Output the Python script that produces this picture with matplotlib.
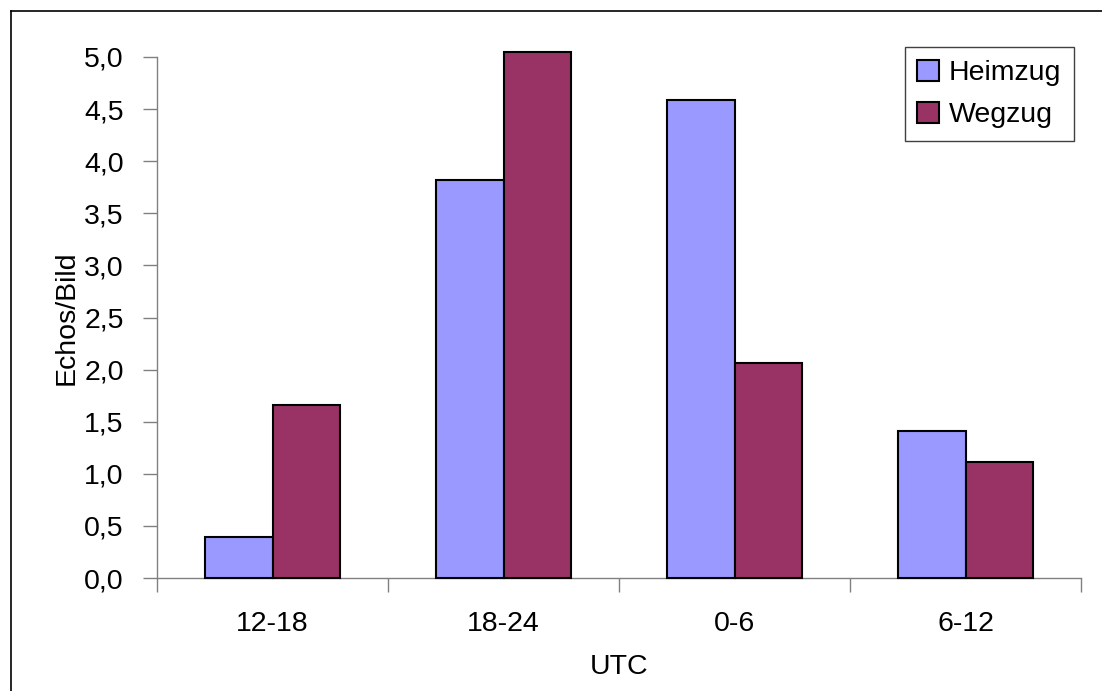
import numpy as np
import matplotlib
matplotlib.use("Agg")
import matplotlib.pyplot as plt
from matplotlib.lines import Line2D

plt.rcParams['font.family'] = ['Liberation Sans', 'DejaVu Sans']

categories = ["12-18", "18-24", "0-6", "6-12"]
heimzug = [0.39, 3.82, 4.59, 1.41]
wegzug = [1.66, 5.05, 2.06, 1.11]
yticks = [0.0, 0.5, 1.0, 1.5, 2.0, 2.5, 3.0, 3.5, 4.0, 4.5, 5.0]

fs = 20.5

fig = plt.figure(figsize=(11.02, 6.91), dpi=100)
ax = fig.add_axes([157/1102, 1-578/691, (1081-157)/1102, (578-57)/691])

x = np.arange(len(categories))
w = 0.292
ax.bar(x - w/2, heimzug, w, color='#9999FF', edgecolor='black', linewidth=1.5,
       label='Heimzug', clip_on=False, zorder=3)
ax.bar(x + w/2, wegzug, w, color='#993366', edgecolor='black', linewidth=1.5,
       label='Wegzug', clip_on=False, zorder=3)

ax.set_xlim(-0.5, len(categories) - 0.5)
ax.set_ylim(0, 5)

# tick marks between groups, labels centred under the groups
ax.set_xticks(np.arange(len(categories) + 1) - 0.5)
ax.set_xticklabels([])
ax.set_xticks(x, minor=True)
ax.set_xticklabels(categories, minor=True, fontsize=fs)
ax.tick_params(axis='x', which='minor', length=0, pad=24)
ax.tick_params(axis='x', which='major', length=10, width=1, color='#808080', direction='out')

ax.set_yticks(yticks)
ax.set_yticklabels([f"{v:.1f}".replace('.', ',') for v in yticks], fontsize=fs)
ax.tick_params(axis='y', length=10, width=1, color='#808080', pad=14)

for s in ['top', 'right']:
    ax.spines[s].set_visible(False)
for s in ['left', 'bottom']:
    ax.spines[s].set_color('#808080')
    ax.spines[s].set_linewidth(1)

ax.set_xlabel("UTC", fontsize=fs, labelpad=12)
ax.set_ylabel("Echos/Bild", fontsize=fs, labelpad=3)

leg = ax.legend(loc='upper right', bbox_to_anchor=(1074/1102, 1-47/691),
                bbox_transform=fig.transFigure, fontsize=fs, frameon=True,
                fancybox=False, edgecolor='#404040', framealpha=1,
                handlelength=0.75, handleheight=0.75, handletextpad=0.35,
                borderpad=0.45, labelspacing=0.55, borderaxespad=0)
leg.get_frame().set_linewidth(1)

# outer chart border
fig.add_artist(Line2D([11/1102, 11/1102], [0, 1-11/691], color='black', lw=1.2))
fig.add_artist(Line2D([11/1102, 1], [1-11/691, 1-11/691], color='black', lw=1.2))

fig.savefig("out.png", dpi=100)
